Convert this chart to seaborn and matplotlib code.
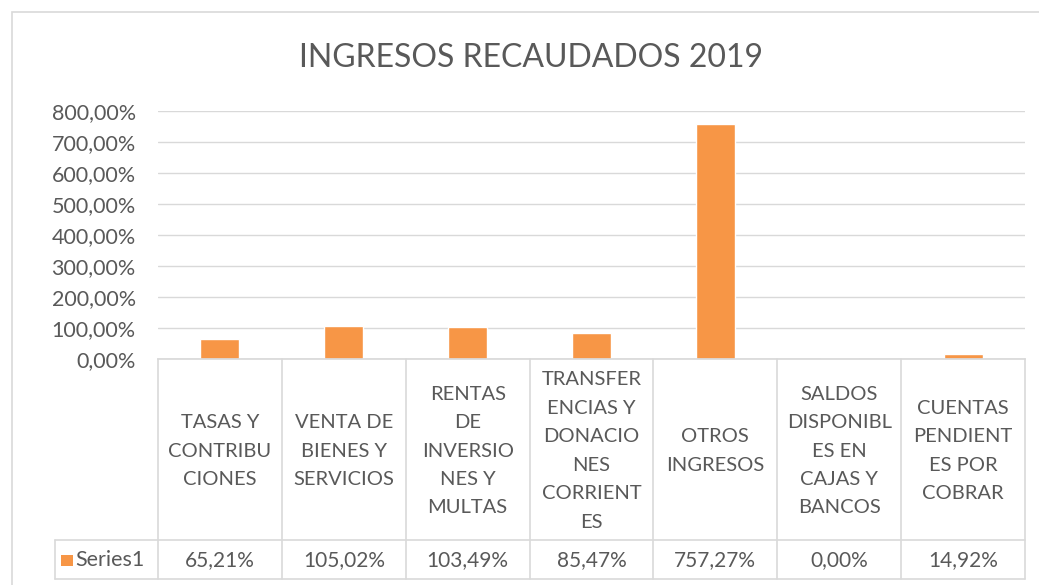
import matplotlib
matplotlib.use("Agg")
import matplotlib.pyplot as plt
import seaborn as sns
import pandas as pd
from matplotlib.lines import Line2D
from matplotlib.patches import Rectangle
from matplotlib.ticker import FuncFormatter, MultipleLocator
import matplotlib.transforms as mtransforms

title = "INGRESOS RECAUDADOS 2019"
categories = [
    "TASAS Y\nCONTRIBU\nCIONES",
    "VENTA DE\nBIENES Y\nSERVICIOS",
    "RENTAS\nDE\nINVERSIO\nNES Y\nMULTAS",
    "TRANSFER\nENCIAS Y\nDONACIO\nNES\nCORRIENT\nES",
    "OTROS\nINGRESOS",
    "SALDOS\nDISPONIBL\nES EN\nCAJAS Y\nBANCOS",
    "CUENTAS\nPENDIENT\nES POR\nCOBRAR",
]
values = [65.21, 105.02, 103.49, 85.47, 757.27, 0.00, 14.92]
series_name = "Series1"

BAR = "#F79646"
TXT = "#595959"
GRID = "#D9D9D9"
FONT = "Lato"

sns.set_theme(style="white")
plt.rcParams["font.family"] = [FONT, "DejaVu Sans"]

W, H = 1039, 585
fig = plt.figure(figsize=(W / 100, H / 100), dpi=100)
fig.patch.set_facecolor("white")

def fx(px):
    return px / W

def fy(py):
    return 1 - py / H

# chart border
fig.add_artist(Rectangle((fx(12), fy(600)), fx(1060) - fx(12), fy(12) - fy(600),
                         transform=fig.transFigure, fill=False, edgecolor=GRID, lw=1.2))

ax = fig.add_axes([fx(158), fy(359), fx(1025) - fx(158), fy(111) - fy(359)])
df = pd.DataFrame({"cat": categories, "val": values})
sns.barplot(data=df, x="cat", y="val", color=BAR, width=39 / 124, saturation=1, ax=ax)

ax.set_xlim(-0.5, len(categories) - 0.5)
ax.set_ylim(0, 800)
ax.yaxis.set_major_locator(MultipleLocator(100))
ax.yaxis.set_major_formatter(FuncFormatter(lambda v, p: f"{v:.2f}%".replace(".", ",")))
ax.grid(axis="y", color=GRID, lw=1)
ax.set_axisbelow(True)
for s in ["top", "right", "left"]:
    ax.spines[s].set_visible(False)
ax.spines["bottom"].set_color(GRID)
ax.set_xlabel("")
ax.set_ylabel("")
ax.set_xticks([])
ax.tick_params(axis="y", length=0, pad=16, labelsize=15.5, labelcolor=TXT)

fig.text(fx(531), fy(58), title, ha="center", va="center", fontsize=23, color=TXT)

# data table
trans = mtransforms.blended_transform_factory(ax.transData, ax.transAxes)
axh = 359 - 111

def ay(py):
    return (359 - py) / axh

y_top, y_mid, y_bot = ay(359), ay(540), ay(579)
n = len(categories)
x_leg = -0.5 - 103 / 124
for i in range(n + 1):
    xb = i - 0.5
    ax.add_line(Line2D([xb, xb], [y_top, y_bot], transform=trans, color=GRID, lw=1.2, clip_on=False))
for yy in (y_mid, y_bot):
    ax.add_line(Line2D([x_leg, n - 0.5], [yy, yy], transform=trans, color=GRID, lw=1.2, clip_on=False))
ax.add_line(Line2D([x_leg, x_leg], [y_mid, y_bot], transform=trans, color=GRID, lw=1.2, clip_on=False))

for i, (c, v) in enumerate(zip(categories, values)):
    ax.text(i, ay(451), c, transform=trans, ha="center", va="center", fontsize=14.5,
            color=TXT, linespacing=1.82, clip_on=False)
    ax.text(i, ay(560), f"{v:.2f}%".replace(".", ","), transform=trans, ha="center",
            va="center", fontsize=15, color=TXT, clip_on=False)

fig.add_artist(Rectangle((fx(61), fy(566)), fx(12), fy(555) - fy(566), transform=fig.transFigure,
                         facecolor=BAR, edgecolor="none"))
fig.text(fx(75), fy(560), series_name, ha="left", va="center", fontsize=15.5, color=TXT)

fig.savefig("out.png", dpi=100, facecolor="white")
